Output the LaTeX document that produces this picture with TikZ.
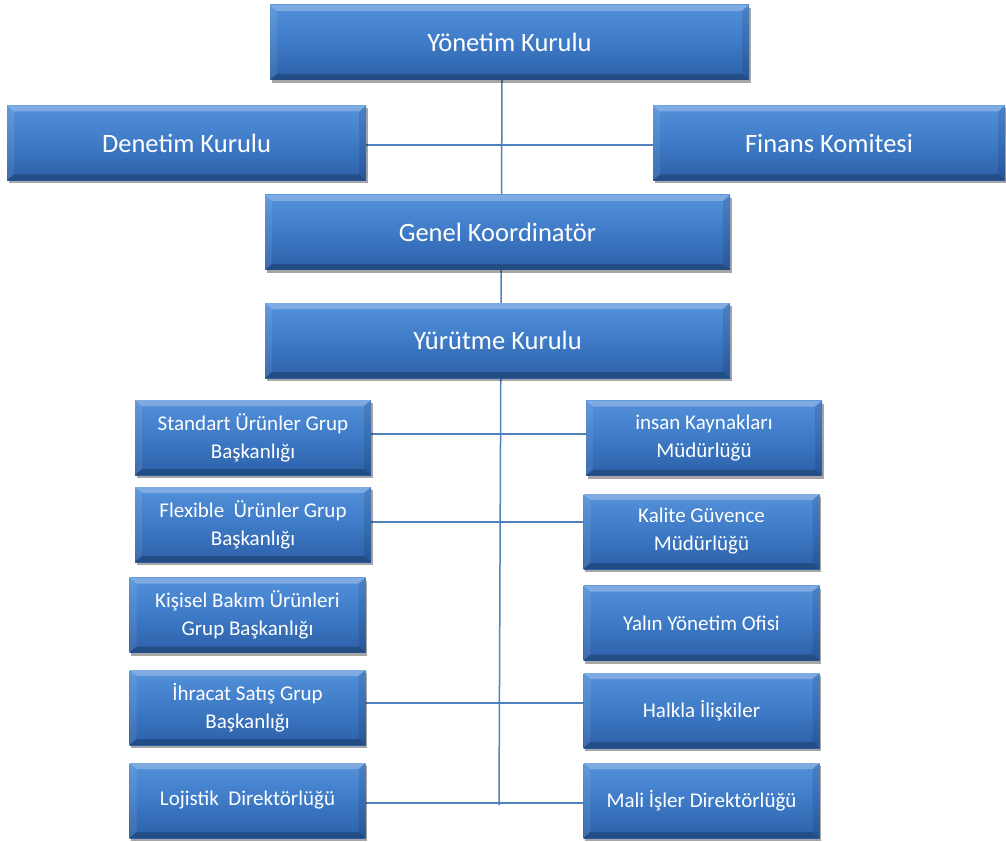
\documentclass[tikz,border=0pt]{standalone}
\usepackage{fontspec}
\newfontfamily\calfont{Carlito}
\usetikzlibrary{shadows,backgrounds}
\definecolor{boxtop}{RGB}{84,145,218}
\definecolor{boxmid}{RGB}{62,122,198}
\definecolor{boxbot}{RGB}{44,96,168}
\definecolor{linec}{RGB}{79,129,189}
\tikzset{
  orgbox/.style={rectangle, draw=none, top color=boxtop, bottom color=boxbot, middle color=boxmid,
    text=white, align=center, inner sep=2pt,
    drop shadow={shadow xshift=1.5pt, shadow yshift=-3pt, opacity=0.35, fill=black},
    path picture={
      \fill[white,opacity=0.25] (path picture bounding box.north west) -- (path picture bounding box.north east)
        -- ([xshift=-7pt,yshift=-6pt]path picture bounding box.north east) -- ([xshift=7pt,yshift=-6pt]path picture bounding box.north west) -- cycle;
      \fill[black,opacity=0.22] (path picture bounding box.south west) -- (path picture bounding box.south east)
        -- ([xshift=-7pt,yshift=6pt]path picture bounding box.south east) -- ([xshift=7pt,yshift=6pt]path picture bounding box.south west) -- cycle;
      \fill[black,opacity=0.10] (path picture bounding box.south east) -- (path picture bounding box.north east)
        -- ([xshift=-7pt,yshift=-6pt]path picture bounding box.north east) -- ([xshift=-7pt,yshift=6pt]path picture bounding box.south east) -- cycle;
      \fill[white,opacity=0.08] (path picture bounding box.south west) -- (path picture bounding box.north west)
        -- ([xshift=7pt,yshift=-6pt]path picture bounding box.north west) -- ([xshift=7pt,yshift=6pt]path picture bounding box.south west) -- cycle;
    }},
  bigbox/.style={orgbox, minimum height=75pt, font=\calfont\fontsize{26.5}{30}\selectfont},
  smallbox/.style={orgbox, minimum width=236pt, minimum height=75pt, font=\calfont\fontsize{21}{28}\selectfont},
  conn/.style={draw=linec, line width=1.5pt}
}
\begin{document}
\begin{tikzpicture}[x=1pt,y=-1pt]
\useasboundingbox (0,0) rectangle (1006,842);
% top part
\node[bigbox, minimum width=479pt] (yk) at (509.5,42.5) {Yönetim Kurulu};
\node[bigbox, minimum width=359pt] (dk) at (186.5,143) {Denetim Kurulu};
\node[bigbox, minimum width=352pt] (fk) at (829,143) {Finans Komitesi};
\node[bigbox, minimum width=465pt] (gk) at (497.5,232.5) {Genel Koordinatör};
\node[bigbox, minimum width=465pt] (yr) at (497.5,340.5) {Yürütme Kurulu};
% left column
\node[smallbox] (sb) at (253,437.5) {Standart Ürünler Grup\\Başkanlığı};
\node[smallbox] (fb) at (253,524.5) {Flexible\ \ Ürünler Grup\\Başkanlığı};
\node[smallbox] (kb) at (247.5,615) {Kişisel Bakım Ürünleri\\Grup Başkanlığı};
\node[smallbox] (ib) at (247.5,707.5) {İhracat Satış Grup\\Başkanlığı};
\node[smallbox] (ld) at (247.5,800.5) {Lojistik\ \ Direktörlüğü};
% right column
\node[smallbox] (ik) at (704,438) {insan Kaynakları\\Müdürlüğü};
\node[smallbox] (kg) at (701.5,531.5) {Kalite Güvence\\Müdürlüğü};
\node[smallbox] (yo) at (701.5,623) {Yalın Yönetim Ofisi};
\node[smallbox] (hi) at (701.5,710.5) {Halkla İlişkiler};
\node[smallbox] (md) at (701.5,800.5) {Mali İşler Direktörlüğü};
\coordinate (bot) at (499,805);
\begin{scope}[on background layer]
\draw[conn] (yk.south -| 502,0) -- (bot);
\draw[conn] (dk.east |- 0,145) -- (fk.west |- 0,145);
\draw[conn] (sb.east |- 0,434) -- (ik.west |- 0,434);
\draw[conn] (fb.east |- 0,522) -- (kg.west |- 0,522);
\draw[conn] (ib.east |- 0,703) -- (hi.west |- 0,703);
\draw[conn] (ld.east |- 0,803) -- (md.west |- 0,803);
\end{scope}
\end{tikzpicture}
\end{document}
